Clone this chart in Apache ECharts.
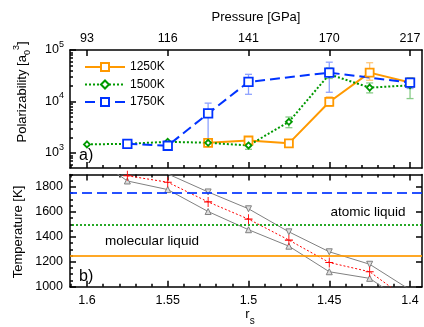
<!DOCTYPE html>
<html>
<head>
<meta charset="utf-8">
<script src="https://cdn.jsdelivr.net/npm/echarts@6/dist/echarts.min.js"></script>
<style>
html, body { margin: 0; padding: 0; background: #fff; }
#chart { width: 424px; height: 327px; }
</style>
</head>
<body>
<div id="chart"></div>
<script>
// r_s values of the runs, shared by both panels
var rs = [1.6, 1.575, 1.55, 1.525, 1.5, 1.475, 1.45, 1.425, 1.4];
var rsTicks = [1.6, 1.55, 1.5, 1.45, 1.4];
var rsTickLabels = ['1.6', '1.55', '1.5', '1.45', '1.4'];
var pressureLabels = ['93', '116', '141', '170', '217'];

// a) polarizability [a0^3], null = no point / no error bar
var pol1250 = [null, null, null, 1580, 1750, 1540, 9800, 36400, 23300];
var pol1250Lo = [null, null, null, null, null, null, 8100, 25800, null];
var pol1250Hi = [null, null, null, null, null, null, 12300, 56600, null];
var pol1500 = [1470, 1510, 1650, 1580, 1400, 4030, 33700, 18600, 20600];
var pol1500Lo = [null, null, null, null, 1180, 3100, 28000, 14700, 11400];
var pol1500Hi = [null, null, null, null, 1590, 5000, 45000, 22900, 29000];
var pol1750 = [null, 1510, 1385, 5860, 24000, null, 36400, null, 23300];
var pol1750Lo = [null, null, null, 1700, 13800, null, 15100, null, 17900];
var pol1750Hi = [null, null, null, 9300, 33700, null, 58000, null, 27900];

// b) transition temperature [K] with its upper / lower bounds
var tUpper = [null, null, 1905, 1760, 1625, 1440, 1280, 1180, 975];
var tMid = [null, 1890, 1838, 1680, 1542, 1374, 1194, 1120, 884];
var tLower = [2080, 1848, 1779, 1603, 1457, 1325, 1120, 1067, 847];
var isotherms = [1250, 1500, 1750];
var tempTicks = [1000, 1200, 1400, 1600, 1800];

var ORANGE = '#ff9900', GREEN = '#009900', BLUE = '#0033ff';
var FONT = '"Liberation Sans", Arial, Helvetica, sans-serif';

var X_MIN = 1.3926, X_MAX = 1.6105;
var LOG_MIN = 2.709, LOG_MAX = 5;
var T_MIN = 1000, T_MAX = 1900;

var rsMinor = [];
for (var i = 140; i <= 161; i++) rsMinor.push(i / 100);
var logMajor = [3, 4, 5];
var logMinor = [];
for (var n = 2; n <= 4; n++) {
    for (var k = 2; k <= 9; k++) {
        var lv = Math.log10(k * Math.pow(10, n));
        if (lv >= LOG_MIN && lv <= LOG_MAX) logMinor.push(lv);
    }
}
var tMinor = [];
for (var t = 1000; t <= 1900; t += 50) tMinor.push(t);

var pairs = function (ys, log) {
    var out = [];
    for (var i = 0; i < rs.length; i++) {
        if (ys[i] != null) out.push([rs[i], log ? Math.log10(ys[i]) : ys[i]]);
    }
    return out;
};
var errPairs = function (lo, hi) {
    var out = [];
    for (var i = 0; i < rs.length; i++) {
        if (lo[i] != null) out.push([rs[i], Math.log10(lo[i]), Math.log10(hi[i])]);
    }
    return out;
};
var nearestLabel = function (v, ticks, labels) {
    var best = 0;
    for (var i = 1; i < ticks.length; i++) {
        if (Math.abs(ticks[i] - v) < Math.abs(ticks[best] - v)) best = i;
    }
    return labels[best];
};

// one axis; only what is asked for is shown
var axis = function (o) {
    var a = {
        type: 'value',
        gridIndex: o.grid,
        position: o.pos,
        min: o.min,
        max: o.max,
        inverse: !!o.inverse,
        axisLine: { show: !!o.line, onZero: false, lineStyle: { color: '#000', width: 1.5 } },
        axisTick: o.ticks ? {
            show: true, inside: true, length: o.tickLen || 6,
            customValues: o.ticks, lineStyle: { color: '#000', width: 1.5 }
        } : { show: false },
        axisLabel: { show: false },
        splitLine: { show: false }
    };
    if (o.label) a.axisLabel = o.label;
    return a;
};

var xa = { min: X_MIN, max: X_MAX, inverse: true };
var xAxes = [
    axis(Object.assign({ grid: 0, pos: 'bottom', line: true, ticks: rsTicks }, xa)),
    axis(Object.assign({
        grid: 0, pos: 'top', line: true, ticks: rsTicks,
        label: {
            show: true, customValues: rsTicks, margin: 5, color: '#000', fontSize: 12.5, fontFamily: FONT,
            formatter: function (v) { return nearestLabel(v, rsTicks, pressureLabels); }
        }
    }, xa)),
    axis(Object.assign({ grid: 0, pos: 'bottom', ticks: rsMinor, tickLen: 3 }, xa)),
    axis(Object.assign({
        grid: 1, pos: 'bottom', line: true, ticks: rsTicks,
        label: {
            show: true, customValues: rsTicks, margin: 7, color: '#000', fontSize: 12.5, fontFamily: FONT,
            formatter: function (v) { return nearestLabel(v, rsTicks, rsTickLabels); }
        }
    }, xa)),
    axis(Object.assign({ grid: 1, pos: 'top', line: true, ticks: rsTicks }, xa)),
    axis(Object.assign({ grid: 1, pos: 'top', ticks: rsMinor, tickLen: 3 }, xa)),
    axis(Object.assign({ grid: 1, pos: 'bottom', ticks: rsMinor, tickLen: 3 }, xa))
];

var yAxes = [
    axis({
        grid: 0, pos: 'left', min: LOG_MIN, max: LOG_MAX, line: true, ticks: logMajor,
        label: {
            show: true, customValues: logMajor, margin: 6, color: '#000', fontFamily: FONT,
            formatter: function (v) { return '{b|10}{s|' + Math.round(v) + '}'; },
            rich: {
                b: { fontSize: 12.5, fontFamily: FONT, color: '#000', lineHeight: 20 },
                s: { fontSize: 9, fontFamily: FONT, color: '#000', lineHeight: 10, verticalAlign: 'top' }
            }
        }
    }),
    axis({ grid: 0, pos: 'right', min: LOG_MIN, max: LOG_MAX, line: true }),
    axis({ grid: 0, pos: 'left', min: LOG_MIN, max: LOG_MAX, ticks: logMinor, tickLen: 3 }),
    axis({
        grid: 1, pos: 'left', min: T_MIN, max: T_MAX, line: true, ticks: tempTicks,
        label: {
            show: true, customValues: tempTicks, margin: 7, color: '#000', fontSize: 12.5, fontFamily: FONT,
            formatter: function (v) { return String(Math.round(v)); }
        }
    }),
    axis({ grid: 1, pos: 'right', min: T_MIN, max: T_MAX, line: true, ticks: tempTicks }),
    axis({ grid: 1, pos: 'left', min: T_MIN, max: T_MAX, ticks: tMinor, tickLen: 3 })
];

var errorBars = function (name, data, color) {
    return {
        name: name + ' err', type: 'custom', xAxisIndex: 0, yAxisIndex: 0, z: 1,
        data: data,
        renderItem: function (params, api) {
            var lo = api.coord([api.value(0), api.value(1)]);
            var hi = api.coord([api.value(0), api.value(2)]);
            var w = 3.5;
            var st = { stroke: color, lineWidth: 1.3 };
            return {
                type: 'group',
                children: [
                    { type: 'line', shape: { x1: lo[0], y1: lo[1], x2: hi[0], y2: hi[1] }, style: st },
                    { type: 'line', shape: { x1: lo[0] - w, y1: lo[1], x2: lo[0] + w, y2: lo[1] }, style: st },
                    { type: 'line', shape: { x1: hi[0] - w, y1: hi[1], x2: hi[0] + w, y2: hi[1] }, style: st }
                ]
            };
        }
    };
};

var polSeries = function (name, ys, color, symbol, size, dash) {
    return {
        name: name, type: 'line', xAxisIndex: 0, yAxisIndex: 0, z: 3,
        data: pairs(ys, true),
        symbol: symbol, symbolSize: size,
        itemStyle: { color: '#fff', borderColor: color, borderWidth: 1.8 },
        lineStyle: { color: color, width: 2, type: dash }
    };
};

var tSeries = function (ys, color, symbol, size, rot, dash, width, fill) {
    return {
        type: 'line', xAxisIndex: 3, yAxisIndex: 3, z: 3,
        data: pairs(ys, false),
        clip: true,
        symbol: symbol, symbolSize: size, symbolRotate: rot,
        itemStyle: { color: fill, borderColor: color, borderWidth: 1 },
        lineStyle: { color: color, width: width, type: dash }
    };
};

var isoColors = [ORANGE, GREEN, BLUE];
var isoDash = ['solid', [2, 2], [10, 5]];
var isoLines = isotherms.map(function (v, i) {
    return { yAxis: v, lineStyle: { color: isoColors[i], type: isoDash[i], width: 2, opacity: 0.85 } };
});

var myChart = echarts.init(document.getElementById('chart'), null, { renderer: 'canvas' });
var option = {
    animation: false,
    textStyle: { fontFamily: FONT },
    grid: [
        { left: 70, top: 50, width: 352, height: 118 },
        { left: 70, top: 174.5, width: 352, height: 112.2 }
    ],
    xAxis: xAxes,
    yAxis: yAxes,
    legend: {
        data: ['1250K', '1500K', '1750K'],
        orient: 'vertical',
        left: 84, top: 61, padding: 0,
        itemWidth: 40, itemHeight: 10, itemGap: 5.5,
        textStyle: { color: '#000', fontSize: 12, fontFamily: FONT }
    },
    series: [
        errorBars('1250K', errPairs(pol1250Lo, pol1250Hi), '#ffc77a'),
        errorBars('1500K', errPairs(pol1500Lo, pol1500Hi), '#88cc88'),
        errorBars('1750K', errPairs(pol1750Lo, pol1750Hi), '#8ea2ff'),
        polSeries('1250K', pol1250, ORANGE, 'rect', 8, 'solid'),
        polSeries('1500K', pol1500, GREEN, 'diamond', 6, [2, 2]),
        polSeries('1750K', pol1750, BLUE, 'rect', 8.5, [10, 5]),
        {
            type: 'line', xAxisIndex: 3, yAxisIndex: 3, data: [], z: 2,
            markLine: { silent: true, symbol: ['none', 'none'], label: { show: false }, data: isoLines }
        },
        tSeries(tUpper, '#808080', 'triangle', 6, 180, 'solid', 1, '#dddddd'),
        tSeries(tLower, '#808080', 'triangle', 6, 0, 'solid', 1, '#dddddd'),
        tSeries(tMid, '#ff0000', 'path://M0,5L10,5M5,0L5,10', [8, 10], 0, [2, 2], 1, 'none')
    ],
    graphic: [
        { type: 'text', x: 256, y: 17, style: { text: 'Pressure [GPa]', font: '13px ' + FONT, fill: '#000', textAlign: 'center', textVerticalAlign: 'middle', align: 'center', verticalAlign: 'middle' } },
        {
            type: 'text', x: 22, y: 92, rotation: Math.PI / 2,
            style: {
                text: '{n|Polarizability [a}{d|0}{u|3}{n|]}', fill: '#000',
                textAlign: 'center', textVerticalAlign: 'middle', align: 'center', verticalAlign: 'middle',
                rich: {
                    n: { fontSize: 13, fontFamily: FONT, lineHeight: 20 },
                    d: { fontSize: 9, fontFamily: FONT, lineHeight: 9, verticalAlign: 'bottom' },
                    u: { fontSize: 9, fontFamily: FONT, lineHeight: 9, verticalAlign: 'top' }
                }
            }
        },
        { type: 'text', x: 18, y: 232, rotation: Math.PI / 2, style: { text: 'Temperature [K]', font: '13px ' + FONT, fill: '#000', textAlign: 'center', textVerticalAlign: 'middle', align: 'center', verticalAlign: 'middle' } },
        {
            type: 'text', x: 250, y: 317,
            style: {
                text: '{r|r}{s|s}', fill: '#000',
                textAlign: 'center', textVerticalAlign: 'middle', align: 'center', verticalAlign: 'middle',
                rich: {
                    r: { fontSize: 13, fontFamily: FONT, lineHeight: 18, verticalAlign: 'top' },
                    s: { fontSize: 10, fontFamily: FONT, lineHeight: 10, verticalAlign: 'bottom' }
                }
            }
        },
        { type: 'text', x: 79, y: 156, style: { text: 'a)', font: '16px ' + FONT, fill: '#000', textAlign: 'left', textVerticalAlign: 'middle', align: 'left', verticalAlign: 'middle' } },
        { type: 'text', x: 79, y: 277, style: { text: 'b)', font: '16px ' + FONT, fill: '#000', textAlign: 'left', textVerticalAlign: 'middle', align: 'left', verticalAlign: 'middle' } },
        { type: 'text', x: 152, y: 241, z: 10, style: { text: 'molecular liquid', font: '13.5px ' + FONT, fill: '#000', textAlign: 'center', textVerticalAlign: 'middle', align: 'center', verticalAlign: 'middle' } },
        { type: 'text', x: 368, y: 212, z: 10, style: { text: 'atomic liquid', font: '13.5px ' + FONT, fill: '#000', textAlign: 'center', textVerticalAlign: 'middle', align: 'center', verticalAlign: 'middle' } }
    ]
};
myChart.setOption(option);
</script>
</body>
</html>
